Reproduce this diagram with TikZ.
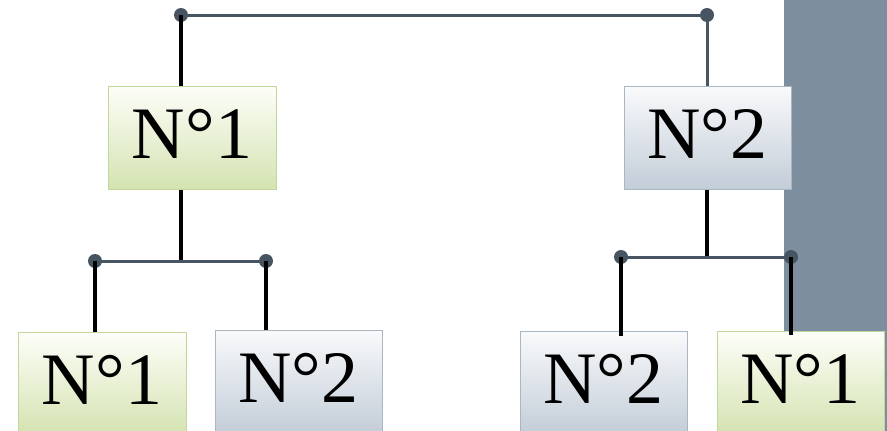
\documentclass[tikz,border=0pt]{standalone}
\usepackage{fontspec}
\setmainfont{Liberation Serif}
\definecolor{greenTop}{HTML}{FDFEF9}
\definecolor{greenBot}{HTML}{D4E3B1}
\definecolor{greenEdge}{HTML}{C3D69B}
\definecolor{blueTop}{HTML}{F9FAFB}
\definecolor{blueBot}{HTML}{C3CDD8}
\definecolor{blueEdge}{HTML}{A9B7C4}
\definecolor{barFill}{HTML}{7D8F9E}
\definecolor{slate}{HTML}{475563}
\tikzset{
  box/.style={rectangle, inner sep=0pt, minimum width=167pt, minimum height=103pt,
    text height=72pt, text depth=31pt, font=\fontsize{74}{74}\selectfont, line width=1pt},
  greenbox/.style={box, draw=greenEdge, top color=greenTop, bottom color=greenBot},
  bluebox/.style={box, draw=blueEdge, top color=blueTop, bottom color=blueBot},
  rail/.style={draw=slate, line width=3pt},
  thinlink/.style={draw=slate, line width=3pt},
  link/.style={draw=black, line width=4.2pt},
  dot/.style={fill=slate}
}
\begin{document}
\begin{tikzpicture}[x=1pt, y=-1pt]
\useasboundingbox (0,0) rectangle (887,431);
\clip (0,0) rectangle (887,431);
% side panel
\fill[barFill] (784,0) rectangle (887,431);

% boxes
\node[greenbox, minimum width=168pt] (t1) at (192,137.5) {N°1};
\node[bluebox] (t2) at (707.5,137.5) {N°2};
\node[greenbox, minimum width=168pt] (b1) at (102,383.5) {N°1};
\node[bluebox] (b2) at (298.5,381.5) {N°2};
\node[bluebox] (b3) at (603.5,382.5) {N°2};
\node[greenbox] (b4) at (800.5,382.5) {N°1};

% junction points
\coordinate (ja) at (181,15);
\coordinate (jb) at (707,15);
\coordinate (jm1) at (181,261);
\coordinate (jl) at (95,261);
\coordinate (jr) at (266,261);
\coordinate (jm2) at (707,257);
\coordinate (kl) at (621,257);
\coordinate (kr) at (791,257);

% top level
\draw[rail] (ja) -- (jb);
\fill[dot] (ja) circle (7pt);
\fill[dot] (jb) circle (7pt);
\draw[link] (ja) -- (ja |- t1.north);
\draw[thinlink] (jb) -- (jb |- t2.north);

% left branch
\draw[link] (jm1 |- t1.south) -- ([yshift=1pt]jm1);
\draw[rail] (jl) -- (jr);
\fill[dot] (jl) circle (7pt);
\fill[dot] (jr) circle (7pt);
\draw[link] (jl) -- (jl |- b1.north);
\draw[link] (jr) -- (jr |- b2.north);

% right branch
\draw[link] (jm2 |- t2.south) -- ([yshift=1pt]jm2);
\draw[rail] (kl) -- (kr);
\fill[dot] (kl) circle (7pt);
\fill[dot] (kr) circle (7pt);
\draw[link] (kl) -- ([yshift=-5pt]kl |- b3.north);
\draw[link] (kr) -- ([yshift=-4pt]kr |- b4.north);
\end{tikzpicture}
\end{document}
